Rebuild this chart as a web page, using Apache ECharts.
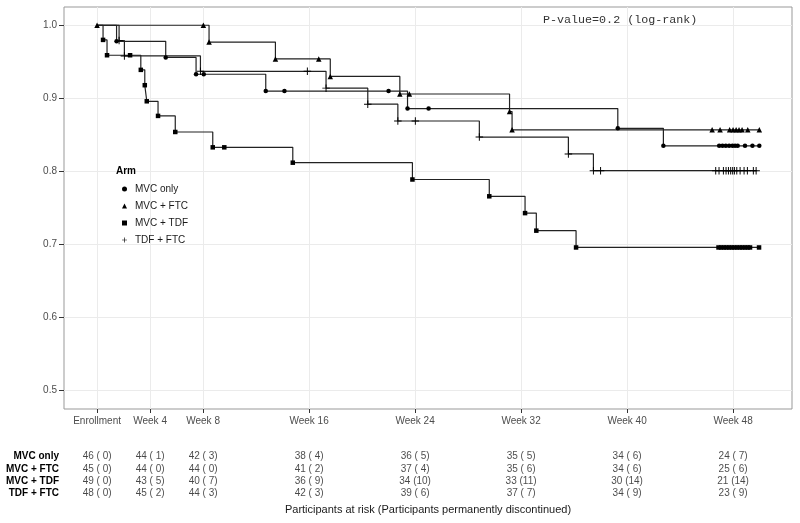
<!DOCTYPE html>
<html><head><meta charset="utf-8">
<script src="https://cdn.jsdelivr.net/npm/echarts@6/dist/echarts.min.js"></script>
<style>html,body{margin:0;padding:0;background:#fff}#c{width:800px;height:523px}</style>
</head><body><div id="c"></div>
<script>
// ---- data ----
const tickWeeks = [0, 4, 8, 16, 24, 32, 40, 48];
const tickLabels = ['Enrollment', 'Week 4', 'Week 8', 'Week 16', 'Week 24', 'Week 32', 'Week 40', 'Week 48'];
const yTicks = [0.5, 0.6, 0.7, 0.8, 0.9, 1.0];
const arms = ['MVC only', 'MVC + FTC', 'MVC + TDF', 'TDF + FTC'];

// Kaplan-Meier points (weeks, survival)
const mvcOnlyTime = [0, 1.47, 5.18, 7.47, 8.05, 12.73, 14.14, 22.0, 23.43, 25.02, 39.3, 42.74, 46.95, 47.2, 47.45, 47.7, 47.95, 48.15, 48.35, 48.9, 49.46, 49.98];
const mvcOnlySurv = [1.0, 0.978, 0.956, 0.933, 0.933, 0.910, 0.910, 0.910, 0.886, 0.886, 0.859, 0.835, 0.835, 0.835, 0.835, 0.835, 0.835, 0.835, 0.835, 0.835, 0.835, 0.835];

const mvcFtcTime = [0, 8.02, 8.45, 13.46, 16.73, 17.6, 22.85, 23.57, 31.13, 31.32, 46.42, 47.02, 47.74, 48.0, 48.23, 48.45, 48.68, 49.11, 49.98];
const mvcFtcSurv = [1.0, 1.0, 0.977, 0.954, 0.954, 0.930, 0.906, 0.906, 0.882, 0.857, 0.857, 0.857, 0.857, 0.857, 0.857, 0.857, 0.857, 0.857, 0.857];

const mvcTdfTime = [0, 0.45, 0.75, 2.49, 3.3, 3.6, 3.75, 4.6, 5.9, 8.73, 9.6, 14.77, 23.8, 29.6, 32.3, 33.15, 36.15, 46.9, 47.1, 47.3, 47.5, 47.7, 47.9, 48.1, 48.3, 48.5, 48.7, 48.9, 49.1, 49.28, 49.96];
const mvcTdfSurv = [1.0, 0.980, 0.959, 0.959, 0.939, 0.918, 0.896, 0.876, 0.854, 0.833, 0.833, 0.812, 0.789, 0.766, 0.743, 0.719, 0.696, 0.696, 0.696, 0.696, 0.696, 0.696, 0.696, 0.696, 0.696, 0.696, 0.696, 0.696, 0.696, 0.696, 0.696];

const tdfFtcTime = [0, 1.66, 2.06, 7.8, 15.87, 17.28, 20.43, 22.7, 24.02, 28.85, 35.57, 37.46, 38.0, 46.69, 46.94, 47.27, 47.47, 47.65, 47.82, 47.97, 48.1, 48.28, 48.53, 48.83, 49.08, 49.53, 49.74];
const tdfFtcSurv = [1.0, 0.979, 0.958, 0.937, 0.937, 0.914, 0.892, 0.869, 0.869, 0.847, 0.824, 0.801, 0.801, 0.801, 0.801, 0.801, 0.801, 0.801, 0.801, 0.801, 0.801, 0.801, 0.801, 0.801, 0.801, 0.801, 0.801];

// numbers at risk (discontinued) at each tick
const riskMvcOnly = [46, 44, 42, 38, 36, 35, 34, 24];
const discMvcOnly = [0, 1, 3, 4, 5, 5, 6, 7];
const riskMvcFtc = [45, 44, 44, 41, 37, 35, 34, 25];
const discMvcFtc = [0, 0, 0, 2, 4, 6, 6, 6];
const riskMvcTdf = [49, 43, 40, 36, 34, 33, 30, 21];
const discMvcTdf = [0, 5, 7, 9, 10, 11, 14, 14];
const riskTdfFtc = [48, 45, 44, 42, 39, 37, 34, 23];
const discTdfFtc = [0, 2, 3, 3, 6, 7, 9, 9];

// ---- build ----
const plusPath = 'path://M-1,-0.13L-0.13,-0.13L-0.13,-1L0.13,-1L0.13,-0.13L1,-0.13L1,0.13L0.13,0.13L0.13,1L-0.13,1L-0.13,0.13L-1,0.13Z';
const armTimes = [mvcOnlyTime, mvcFtcTime, mvcTdfTime, tdfFtcTime];
const armSurvs = [mvcOnlySurv, mvcFtcSurv, mvcTdfSurv, tdfFtcSurv];
const armSymbols = ['circle', 'triangle', 'rect', plusPath];
const armSymbolSizes = [4.5, 5.5, 4.5, 7.5];
const showStart = [false, true, false, false];
const armRisk = [riskMvcOnly, riskMvcFtc, riskMvcTdf, riskTdfFtc];
const armDisc = [discMvcOnly, discMvcFtc, discMvcTdf, discTdfFtc];

const font = 'Liberation Sans, Arial, Helvetica, sans-serif';
const xMin = -2.4975, xMax = 52.4475;

const series = [];
arms.forEach((arm, i) => {
  series.push({
    type: 'line', name: arm, xAxisIndex: 0, yAxisIndex: 0,
    step: 'end', showAllSymbol: true, symbol: armSymbols[i], symbolSize: armSymbolSizes[i],
    lineStyle: { color: '#222', width: 1.2 },
    itemStyle: { color: '#000' },
    emphasis: { disabled: true }, silent: true,
    data: armTimes[i].map((t, j) => (j === 0 && !showStart[i]) ? { value: [t, armSurvs[i][j]], symbol: 'none' } : [t, armSurvs[i][j]])
  });
});
arms.forEach((arm, i) => {
  series.push({
    type: 'scatter', name: 'risk ' + arm, xAxisIndex: 1, yAxisIndex: 1,
    symbolSize: 1, itemStyle: { color: 'rgba(0,0,0,0)' }, silent: true,
    data: tickWeeks.map((w, j) => [w, i, armRisk[i][j], armDisc[i][j]]),
    label: {
      show: true, position: 'inside', color: '#1a1a1a', fontSize: 10, fontFamily: font,
      formatter: p => p.value[2] + ' (' + String(p.value[3]).padStart(2, ' ') + ')'
    }
  });
});

const option = {
  animation: false,
  backgroundColor: '#fff',
  title: [
    { text: 'Arm', left: 116, top: 166, padding: 0, textStyle: { fontSize: 10, fontWeight: 'bold', color: '#000', fontFamily: font } },
    { text: 'P-value=0.2 (log-rank)', left: 543, top: 14, padding: 0, textStyle: { fontSize: 11.7, fontWeight: 'normal', color: '#333', fontFamily: 'Liberation Mono, Courier New, monospace' } }
  ],
  legend: {
    orient: 'vertical', left: 122, top: 183, padding: 0,
    itemWidth: 5, itemHeight: 5, itemGap: 5,
    selectedMode: false,
    data: arms.map((a, i) => ({ name: a, icon: armSymbols[i] })),
    textStyle: { fontSize: 10, color: '#1a1a1a', fontFamily: font, lineHeight: 12, padding: [0, 0, 0, 3] }
  },
  grid: [
    { left: 64, right: 8, top: 7, bottom: 114, show: true, borderColor: '#999', borderWidth: 1, backgroundColor: '#fff' },
    { left: 64, right: 8, top: 450.5, height: 49 }
  ],
  xAxis: [
    {
      type: 'value', gridIndex: 0, min: xMin, max: xMax, position: 'bottom',
      axisLine: { show: false, onZero: false },
      axisTick: { show: true, inside: false, length: 4, lineStyle: { color: '#333' }, customValues: tickWeeks },
      axisLabel: { customValues: tickWeeks, formatter: v => tickLabels[tickWeeks.indexOf(v)], color: '#4d4d4d', fontSize: 10, margin: 7, fontFamily: font },
      splitLine: { show: true, lineStyle: { color: '#ebebeb', width: 1 } }
    },
    {
      type: 'value', gridIndex: 1, min: xMin, max: xMax,
      axisLine: { show: false, onZero: false }, axisTick: { show: false }, axisLabel: { show: false }, splitLine: { show: false },
      name: 'Participants at risk (Participants permanently discontinued)', nameLocation: 'middle', nameGap: 5,
      nameTextStyle: { fontSize: 11, color: '#1a1a1a', fontFamily: font }
    }
  ],
  yAxis: [
    {
      type: 'value', gridIndex: 0, min: 0.475, max: 1.025, position: 'left',
      axisLine: { show: false, onZero: false },
      axisTick: { show: true, inside: false, length: 5, lineStyle: { color: '#333' }, customValues: yTicks },
      axisLabel: { customValues: yTicks, formatter: v => v.toFixed(1), color: '#4d4d4d', fontSize: 10, margin: 7, fontFamily: font },
      splitLine: { show: true, lineStyle: { color: '#ebebeb', width: 1 } }
    },
    {
      type: 'category', gridIndex: 1, inverse: true, data: arms, position: 'left',
      axisLine: { show: false, onZero: false }, axisTick: { show: false }, splitLine: { show: false },
      axisLabel: { interval: 0, color: '#000', fontWeight: 'bold', fontSize: 10, margin: 5, fontFamily: font }
    }
  ],
  series: series
};
const chart = echarts.init(document.getElementById('c'), null, { renderer: 'canvas' });
chart.setOption(option);
</script>
</body></html>
